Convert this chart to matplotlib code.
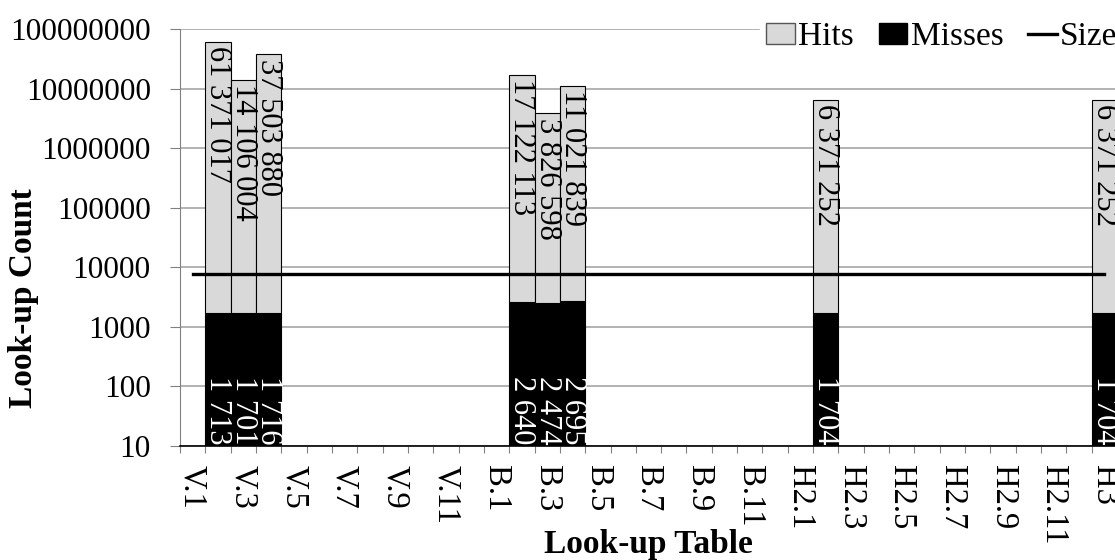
import matplotlib
matplotlib.use("Agg")
import matplotlib.pyplot as plt
from matplotlib.patches import Patch
from matplotlib.lines import Line2D

plt.rcParams["font.family"] = ["Liberation Serif", "DejaVu Serif"]

# look-up tables: V.1-V.12, B.1-B.12, H2.1-H2.12, H3
tables = ([f"V.{i}" for i in range(1, 13)] + [f"B.{i}" for i in range(1, 13)]
          + [f"H2.{i}" for i in range(1, 13)] + ["H3"])

# only some tables have data
hit_tables = ["V.2", "V.3", "V.4", "B.2", "B.3", "B.4", "H2.2", "H3"]
hits = [61371017, 14106004, 37503880, 17122113, 3826598, 11021839, 6371252, 6371252]
misses = [1713, 1701, 1716, 2640, 2474, 2695, 1704, 1704]
size = 7700


def fmt(v):
    return f"{v:,}".replace(",", " ")


W, H = 1115, 560
fig = plt.figure(figsize=(W / 100, H / 100), dpi=100)
ax = fig.add_axes([180 / W, 114 / H, 937 / W, 417 / H])

idx = [tables.index(t) for t in hit_tables]
base = 10
ax.bar(idx, [m - base for m in misses], bottom=base, width=1.0,
       color="black", edgecolor="black", linewidth=0.8, zorder=3)
ax.bar(idx, hits, bottom=misses, width=1.0,
       color="#d9d9d9", edgecolor="black", linewidth=0.8, zorder=3)

# size line across all tables
ax.plot(range(len(tables)), [size] * len(tables), color="black", lw=2.4, zorder=4)

for x, h, m in zip(idx, hits, misses):
    ax.annotate(fmt(h), (x, h + m), xytext=(0, -3), textcoords="offset points",
                rotation=270, ha="center", va="top", fontsize=22, color="black", zorder=5)
    ax.annotate(fmt(m), (x, base), xytext=(0, 1), textcoords="offset points",
                rotation=270, ha="center", va="bottom", fontsize=22, color="white", zorder=5)

ax.set_yscale("log")
ax.set_ylim(10, 1e8)
ax.set_xlim(-0.5, len(tables) - 0.5)
ax.set_yticks([10 ** k for k in range(1, 9)])
ax.set_yticklabels([str(10 ** k) for k in range(1, 9)], fontsize=22.5)
ax.yaxis.set_minor_locator(matplotlib.ticker.NullLocator())
ax.grid(axis="y", color="#a6a6a6", lw=1.2, zorder=0)

# category boundaries get ticks, every other category gets a label
ax.set_xticks([i - 0.5 for i in range(len(tables) + 1)])
ax.set_xticklabels([])
ax.set_xticks(range(0, len(tables), 2), minor=True)
ax.set_xticklabels(tables[::2], minor=True, rotation=270, fontsize=23.5)
ax.tick_params(axis="x", which="major", length=5, color="#808080")
ax.tick_params(axis="x", which="minor", length=0, pad=14)
ax.tick_params(axis="y", length=7, color="#808080", pad=14)

for s in ["top", "right"]:
    ax.spines[s].set_visible(False)
ax.spines["left"].set_color("#808080")
ax.spines["bottom"].set_color("black")
ax.spines["bottom"].set_linewidth(1.2)

ax.set_ylabel("Look-up Count", fontsize=24, fontweight="bold", va="center")
ax.yaxis.set_label_coords((24 - 180) / 937, (446 - 298) / 417)
ax.set_xlabel("Look-up Table", fontsize=24, fontweight="bold", va="center")
ax.xaxis.set_label_coords((648 - 180) / 937, (446 - 545) / 417)

handles = [Patch(facecolor="#d9d9d9", edgecolor="#555555", label="Hits"),
           Patch(facecolor="black", edgecolor="black", label="Misses"),
           Line2D([0], [0], color="black", lw=2.4, label="Size")]
leg = ax.legend(handles=handles, loc="center right", ncol=3, frameon=True,
                fontsize=24, handlelength=0.85, handleheight=0.55, handletextpad=0.1,
                columnspacing=0.75, borderaxespad=0, borderpad=0.2,
                bbox_to_anchor=(1124 / W, 1 - 37 / H), bbox_transform=fig.transFigure)
leg.get_frame().set_edgecolor("white")
leg.get_frame().set_facecolor("white")
leg.get_frame().set_alpha(1)
leg.set_zorder(6)

fig.savefig("out.png", dpi=100)
